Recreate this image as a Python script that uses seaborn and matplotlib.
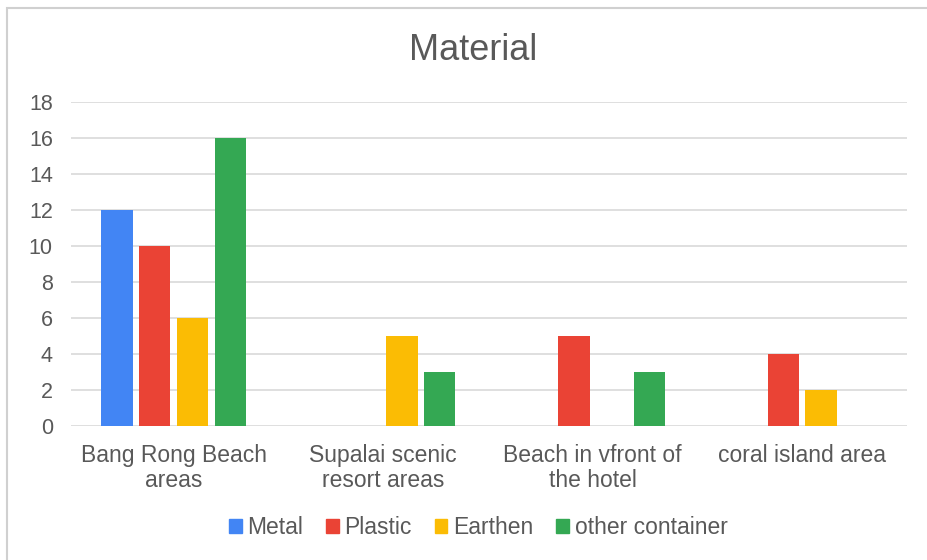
import numpy as np
import pandas as pd
import matplotlib
matplotlib.use("Agg")
import matplotlib.pyplot as plt
import matplotlib.patches as mpatches
import seaborn as sns

LOCATIONS = ["Bang Rong Beach\nareas", "Supalai scenic\nresort areas",
             "Beach in vfront of\nthe hotel", "coral island area"]
MATERIALS = ["Metal", "Plastic", "Earthen", "other container"]
METAL   = [12, 0, 0, 0]
PLASTIC = [10, 0, 5, 4]
EARTHEN = [6, 5, 0, 2]
OTHER   = [16, 3, 3, 0]
Y_TICKS = [0, 2, 4, 6, 8, 10, 12, 14, 16, 18]

COLORS = ["#4285F4", "#EA4335", "#FBBC04", "#34A853"]
TEXT = "#595959"
GRID = "#D9D9D9"

sns.set_theme(style="white")
plt.rcParams["font.family"] = ["Liberation Sans", "DejaVu Sans"]

df = pd.DataFrame({"Location": LOCATIONS,
                   "Metal": METAL, "Plastic": PLASTIC,
                   "Earthen": EARTHEN, "other container": OTHER})
long = df.melt(id_vars="Location", var_name="Material", value_name="Count")

fig = plt.figure(figsize=(9.27, 5.6), dpi=100)
ax = fig.add_axes([0.0765, 0.239, 0.902, 0.579])

sns.barplot(data=long, x="Location", y="Count", hue="Material",
            hue_order=MATERIALS, palette=COLORS, width=0.72, gap=0.17,
            saturation=1, ax=ax, legend=False, linewidth=0, errorbar=None)

ax.set_ylim(0, 18)
ax.set_xlim(-0.49, 3.5)
ax.set_yticks(Y_TICKS)
ax.yaxis.grid(True, color=GRID, linewidth=1.2)
ax.set_axisbelow(True)
for s in ax.spines.values():
    s.set_visible(False)
ax.tick_params(axis="both", length=0, colors=TEXT)
ax.tick_params(axis="x", pad=13, labelsize=16.5)
ax.tick_params(axis="y", pad=13, labelsize=15.5)
for lbl in ax.get_xticklabels():
    lbl.set_linespacing(1.1)
ax.set_xlabel("")
ax.set_ylabel("")

fig.text(0.51, 0.91, "Material", ha="center", va="center",
         fontsize=26, color=TEXT)

handles = [mpatches.Patch(color=c, label=m) for c, m in zip(COLORS, MATERIALS)]
fig.legend(handles=handles, loc="center", bbox_to_anchor=(0.516, 0.058),
           ncol=4, frameon=False, fontsize=16.5, labelcolor=TEXT,
           handlelength=0.55, handleheight=0.55, handletextpad=0.25,
           columnspacing=1.0)

border = mpatches.Rectangle((0.008, -0.01), 1.1, 0.996, transform=fig.transFigure,
                            fill=False, edgecolor="#D0D0D0", linewidth=1.5)
fig.patches.append(border)

fig.savefig("out.png", dpi=100)
